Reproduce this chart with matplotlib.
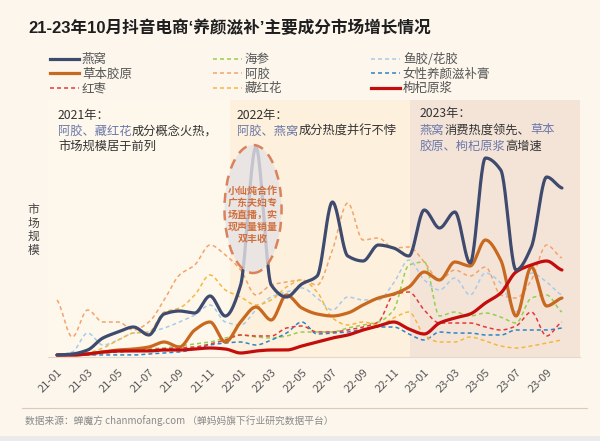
import numpy as np
import matplotlib
matplotlib.use('Agg')
import matplotlib.pyplot as plt
from matplotlib.patches import Ellipse, Rectangle
from matplotlib.lines import Line2D

plt.rcParams['font.family'] = ['Noto Sans CJK SC', 'DejaVu Sans']

# ---------------- data ----------------
months = ['21-01', '21-02', '21-03', '21-04', '21-05', '21-06', '21-07', '21-08', '21-09', '21-10', '21-11', '21-12',
          '22-01', '22-02', '22-03', '22-04', '22-05', '22-06', '22-07', '22-08', '22-09', '22-10', '22-11', '22-12',
          '23-01', '23-02', '23-03', '23-04', '23-05', '23-06', '23-07', '23-08', '23-09', '23-10']
tick_labels = ['21-01', '21-03', '21-05', '21-07', '21-09', '21-11', '22-01', '22-03', '22-05',
               '22-07', '22-09', '22-11', '23-01', '23-03', '23-05', '23-07', '23-09']

yanwo = [0, 1, 5, 17, 23, 28, 20, 41, 44, 42, 59, 39, 70, 208, 70, 58, 71, 79, 153, 99, 94, 110, 107, 99,
         145, 127, 143, 92, 197, 185, 85, 108, 178, 167]
caoben = [0, 0, 1, 3, 5, 6, 8, 13, 8, 25, 33, 13, 33, 48, 35, 60, 47, 41, 39, 42, 50, 57, 61, 68,
          83, 75, 93, 89, 115, 95, 39, 88, 49, 57]
hongzao = [0, 0, 1, 2, 3, 4, 5, 6, 7, 8, 11, 15, 20, 19, 19, 27, 29, 23, 23, 25, 28, 33, 60, 63,
           45, 32, 32, 32, 28, 25, 29, 43, 19, 33]
haishen = [0, 0, 1, 2, 3, 5, 6, 7, 9, 11, 13, 17, 20, 18, 17, 19, 23, 23, 23, 27, 30, 33, 45, 90,
           93, 39, 43, 39, 42, 38, 32, 57, 60, 43]
ejiao = [55, 18, 45, 33, 33, 25, 33, 55, 80, 90, 110, 100, 85, 60, 70, 73, 75, 70, 105, 152, 115, 117, 107, 108,
         93, 75, 85, 79, 88, 60, 57, 75, 110, 97]
zanghonghua = [0, 0, 2, 7, 15, 22, 23, 43, 47, 60, 80, 65, 58, 50, 55, 68, 75, 63, 37, 30, 33, 30, 37, 43,
               20, 13, 13, 18, 14, 9, 7, 9, 12, 15]
yujiao = [0, 3, 22, 10, 15, 22, 23, 27, 33, 40, 50, 33, 30, 45, 58, 63, 67, 57, 45, 58, 55, 55, 72, 95,
          75, 65, 77, 60, 82, 72, 43, 82, 73, 60]
gaozi = [0, 0, 0, 0, 0, 0, 1, 2, 3, 6, 10, 12, 13, 10, 15, 22, 33, 21, 22, 23, 26, 28, 28, 21,
         15, 23, 22, 22, 20, 20, 25, 25, 25, 27]
gouqi = [0, 0, 1, 3, 4, 4, 4, 5, 5, 6, 7, 6, 2, 4, 5, 5, 9, 13, 17, 20, 25, 29, 33, 26,
         21, 32, 37, 41, 52, 62, 83, 90, 94, 85]


# ---------------- helpers ----------------
def pchip(x, y, xn):
    x = np.asarray(x, float)
    y = np.asarray(y, float)
    h = np.diff(x)
    d = np.diff(y) / h
    n = len(x)
    m = np.zeros(n)
    for k in range(1, n - 1):
        if d[k - 1] * d[k] <= 0:
            m[k] = 0.0
        else:
            w1 = 2 * h[k] + h[k - 1]
            w2 = h[k] + 2 * h[k - 1]
            m[k] = (w1 + w2) / (w1 / d[k - 1] + w2 / d[k])
    m[0] = d[0] * 0.5
    m[-1] = d[-1] * 0.5
    idx = np.clip(np.searchsorted(x, xn) - 1, 0, n - 2)
    t = (xn - x[idx]) / h[idx]
    h00 = 2 * t ** 3 - 3 * t ** 2 + 1
    h10 = t ** 3 - 2 * t ** 2 + t
    h01 = -2 * t ** 3 + 3 * t ** 2
    h11 = t ** 3 - t ** 2
    return h00 * y[idx] + h10 * h[idx] * m[idx] + h01 * y[idx + 1] + h11 * h[idx] * m[idx + 1]


W, H = 600, 441
fig = plt.figure(figsize=(W / 100, H / 100), dpi=100)
bg = '#fcf6ed'
fig.patch.set_facecolor(bg)


def fx(px):
    return px / W


def fy(py):
    return 1 - py / H


ax = fig.add_axes([fx(48), fy(357), fx(532), 257 / H])
ax.set_facecolor(bg)
x = np.arange(len(months))
xs = np.linspace(0, len(months) - 1, 800)
ax.set_xlim(-0.59, 34.18)
ax.set_ylim(-2, 255)

# period panels
ax.axvspan(-0.59, 11.3, color='#fdf7ec', zorder=0, lw=0)
ax.axvspan(11.3, 23.1, color='#fdf0dc', zorder=0, lw=0)
ax.axvspan(23.1, 34.18, color='#f4e4d8', zorder=0, lw=0)

HL = '#6b77a8'
c_yanwo = '#3e4a6e'
c_caoben = '#c8691f'
c_gouqi = '#c30d0d'
c_haishen = '#93d04f'
c_ejiao = '#f2a46c'
c_yujiao = '#a9cbe9'
c_gaozi = '#2f84c6'
c_hongzao = '#e23a3a'
c_zang = '#f5b73e'

dash = (2.6, 2.0)
dashed = [(haishen, c_haishen), (ejiao, c_ejiao), (yujiao, c_yujiao),
          (gaozi, c_gaozi), (hongzao, c_hongzao), (zanghonghua, c_zang)]
for vals, c in dashed:
    ax.plot(xs, pchip(x, vals, xs), color=c, lw=1.1, dashes=dash, zorder=2)

ax.plot(xs, pchip(x, caoben, xs), color=c_caoben, lw=2.3, zorder=3, solid_capstyle='round')
ax.plot(xs, pchip(x, gouqi, xs), color=c_gouqi, lw=2.3, zorder=3, solid_capstyle='round')
ax.plot(xs, pchip(x, yanwo, xs), color=c_yanwo, lw=2.3, zorder=4, solid_capstyle='round')

# ellipse callout
ell = Ellipse((12.81, 146), width=3.73, height=128, facecolor=(0.9, 0.89, 0.9, 0.8),
              edgecolor='#d9825b', lw=1.8, linestyle=(0, (4, 3)), zorder=5)
ax.add_patch(ell)
ax.text(12.81, 140, '小仙炖合作\n广东夫妇专\n场直播，实\n现声量销量\n双丰收', ha='center', va='center',
        fontsize=7.2, color='#d0703e', fontweight='bold', linespacing=1.25, zorder=6)

# axes styling
for s in ['top', 'right', 'left']:
    ax.spines[s].set_visible(False)
ax.spines['bottom'].set_color('#e2d8cc')
ax.spines['bottom'].set_linewidth(0.8)
ax.set_yticks([])
ax.set_xticks(np.arange(0, 33, 2))
ax.set_xticklabels(tick_labels, rotation=45, ha='right', rotation_mode='anchor',
                   fontsize=8, color='#555555')
ax.tick_params(axis='x', length=0, pad=7)

# title
fig.text(fx(28), fy(28), '21-23年10月抖音电商‘养颜滋补’主要成分市场增长情况', fontsize=12,
         fontweight='bold', color='#1e1e1e', va='center', ha='left',
         family=['Liberation Sans', 'Noto Sans CJK SC'])

# legends (three columns)
def h(c, lw, ls):
    if ls == 'solid':
        return Line2D([], [], color=c, lw=lw)
    return Line2D([], [], color=c, lw=lw, dashes=dash)

cols = [
    (50, [(h(c_yanwo, 2.3, 'solid'), '燕窝'), (h(c_caoben, 2.3, 'solid'), '草本胶原'), (h(c_hongzao, 1.1, 'd'), '红枣')]),
    (213, [(h(c_haishen, 1.1, 'd'), '海参'), (h(c_ejiao, 1.1, 'd'), '阿胶'), (h(c_zang, 1.1, 'd'), '藏红花')]),
    (371, [(h(c_yujiao, 1.1, 'd'), '鱼胶/花胶'), (h(c_gaozi, 1.1, 'd'), '女性养颜滋补膏'), (h(c_gouqi, 2.3, 'solid'), '枸杞原浆')]),
]
for xpos, items in cols:
    leg = fig.legend([i[0] for i in items], [i[1] for i in items], loc='upper left',
                     bbox_to_anchor=(fx(xpos), fy(53)), frameon=False, fontsize=9,
                     handlelength=2.3, handletextpad=0.25, labelspacing=0.12,
                     borderpad=0, borderaxespad=0)
    for t in leg.get_texts():
        t.set_color('#555555')

# rich text annotations
def rich(xp, yp, parts, fs=8.8):
    prev = None
    for s, c in parts:
        if prev is None:
            prev = fig.text(fx(xp), fy(yp), s, color=c, fontsize=fs, va='center', ha='left', zorder=7)
        else:
            prev = ax.annotate(s, xy=(1, 0), xycoords=prev, va='bottom', ha='left', color=c,
                               fontsize=fs, annotation_clip=False, zorder=7)

K = '#333333'
rich(58, 115, [('2021年：', K)])
rich(58, 131, [('阿胶、藏红花', HL), ('成分概念火热，', K)])
rich(58, 147, [('市场规模居于前列', K)])
rich(237, 115, [('2022年：', K)])
rich(237, 131, [('阿胶、燕窝', HL), ('成分热度并行不悖', K)])
rich(420, 113, [('2023年：', K)])
rich(420, 130, [('燕窝', HL), ('消费热度领先、', K), ('草本', HL)])
rich(420, 146, [('胶原、枸杞原浆', HL), ('高增速', K)])

# y label
fig.text(fx(33), fy(230), '市\n场\n规\n模', fontsize=8.5, color='#444444', ha='center', va='center',
         linespacing=1.05)

# footer
fig.add_artist(Line2D([fx(22), fx(587)], [fy(408), fy(408)], color='#dcc9b8', lw=0.8))
fig.text(fx(25), fy(421), '数据来源：蝉魔方 chanmofang.com （蝉妈妈旗下行业研究数据平台）', fontsize=7,
         color='#8a8a8a', va='center', ha='left')
fig.add_artist(Rectangle((0, 0), 1, fy(436), transform=fig.transFigure, color='#ebebeb', lw=0))

fig.savefig('out.png', dpi=100, facecolor=fig.get_facecolor())
